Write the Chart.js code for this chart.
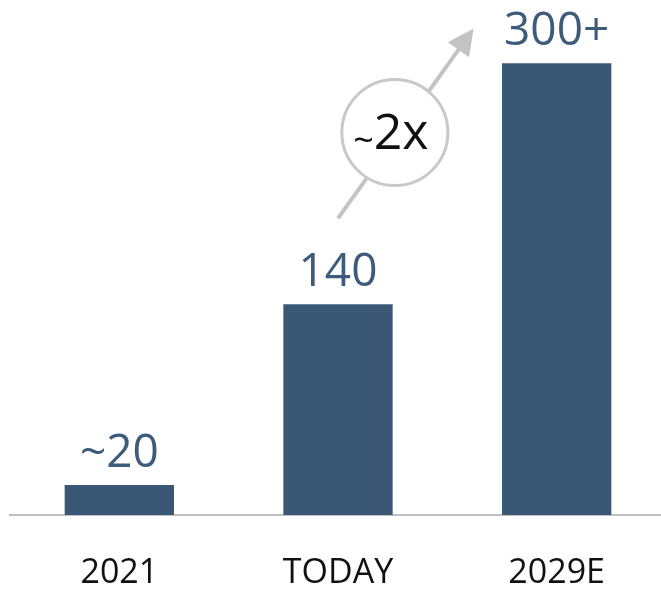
<!DOCTYPE html>
<html lang="en">
<head>
<meta charset="UTF-8">
<title>Growth</title>
<script src="https://cdn.jsdelivr.net/npm/chart.js"></script>
<style>
    html, body { margin: 0; padding: 0; background: #fff; overflow: hidden; }
    #wrap { width: 666px; height: 590px; }
</style>
</head>
<body>
<div id="wrap"><canvas id="growthChart" width="666" height="590"></canvas></div>

<script>
    // chart data
    var categories = ["2021", "TODAY", "2029E"];
    var values = [20, 140, 300];
    var valueLabels = ["~20", "140", "300+"];
    var growthTilde = "~";
    var growthText = "2x";

    var barColor = "#3a5876";
    var labelColor = "#3d5b7b";
    var fontFamily = "'Open Sans', 'Noto Sans', sans-serif";

    // value labels above each bar
    var barLabels = {
        id: 'barLabels',
        afterDatasetsDraw: function (chart) {
            var ctx = chart.ctx;
            var meta = chart.getDatasetMeta(0);
            ctx.save();
            ctx.font = "46px " + fontFamily;
            ctx.fillStyle = labelColor;
            ctx.textAlign = 'center';
            ctx.textBaseline = 'alphabetic';
            meta.data.forEach(function (bar, i) {
                ctx.fillText(valueLabels[i], bar.x, bar.y - 18);
            });
            ctx.restore();
        }
    };

    // arrow from TODAY towards 2029E with the "~2x" bubble
    var growthArrow = {
        id: 'growthArrow',
        afterDraw: function (chart) {
            var ctx = chart.ctx;
            var xs = chart.scales.x, ys = chart.scales.y;
            var step = xs.getPixelForValue(2) - xs.getPixelForValue(1);
            function px(i) { return xs.getPixelForValue(1) + (i - 1) * step; }

            var x0 = px(1.0), y0 = ys.getPixelForValue(197);
            var x1 = px(1.62), y1 = ys.getPixelForValue(323);
            var ang = Math.atan2(y1 - y0, x1 - x0);
            var headLen = 26, headHalf = 13;
            var bx = x1 - headLen * Math.cos(ang), by = y1 - headLen * Math.sin(ang);

            ctx.save();
            ctx.strokeStyle = '#c3c3c3';
            ctx.fillStyle = '#c3c3c3';
            ctx.lineWidth = 4;
            ctx.beginPath();
            ctx.moveTo(x0, y0);
            ctx.lineTo(bx + 2 * Math.cos(ang), by + 2 * Math.sin(ang));
            ctx.stroke();

            ctx.beginPath();
            ctx.moveTo(x1, y1);
            ctx.lineTo(bx + headHalf * Math.sin(ang), by - headHalf * Math.cos(ang));
            ctx.lineTo(bx - headHalf * Math.sin(ang), by + headHalf * Math.cos(ang));
            ctx.closePath();
            ctx.fill();

            // bubble
            var cx = px(1.26), cy = ys.getPixelForValue(254);
            ctx.beginPath();
            ctx.arc(cx, cy, 53, 0, Math.PI * 2);
            ctx.fillStyle = '#ffffff';
            ctx.fill();
            ctx.lineWidth = 3;
            ctx.strokeStyle = '#c8c8c8';
            ctx.stroke();

            ctx.fillStyle = '#111111';
            ctx.textBaseline = 'alphabetic';
            ctx.textAlign = 'left';
            ctx.font = "36px " + fontFamily;
            var tw = ctx.measureText(growthTilde).width;
            ctx.font = "50px " + fontFamily;
            var mw = ctx.measureText(growthText).width;
            var left = cx - 4 - (tw + mw) / 2;
            ctx.font = "36px " + fontFamily;
            ctx.fillText(growthTilde, left, cy + 20);
            ctx.font = "50px " + fontFamily;
            ctx.fillText(growthText, left + tw, cy + 16);
            ctx.restore();
        }
    };

    var ctx = document.getElementById('growthChart').getContext('2d');
    var growthChart = new Chart(ctx, {
        type: 'bar',
        data: {
            labels: categories,
            datasets: [{
                data: values,
                backgroundColor: barColor,
                borderWidth: 0,
                barPercentage: 1,
                categoryPercentage: 0.5
            }]
        },
        options: {
            responsive: false,
            animation: false,
            layout: { padding: { left: 10, right: 0, top: 3, bottom: 0 } },
            plugins: {
                legend: { display: false },
                tooltip: { enabled: false }
            },
            scales: {
                x: {
                    grid: { display: false, drawTicks: false },
                    border: { display: true, color: '#c0c0c0', width: 2 },
                    ticks: {
                        color: '#111111',
                        padding: 38,
                        font: { family: fontFamily, size: 34 }
                    },
                    afterFit: function (scale) { scale.height = 75; }
                },
                y: {
                    display: false,
                    min: 0,
                    max: 340
                }
            }
        },
        plugins: [barLabels, growthArrow]
    });
</script>
</body>
</html>
